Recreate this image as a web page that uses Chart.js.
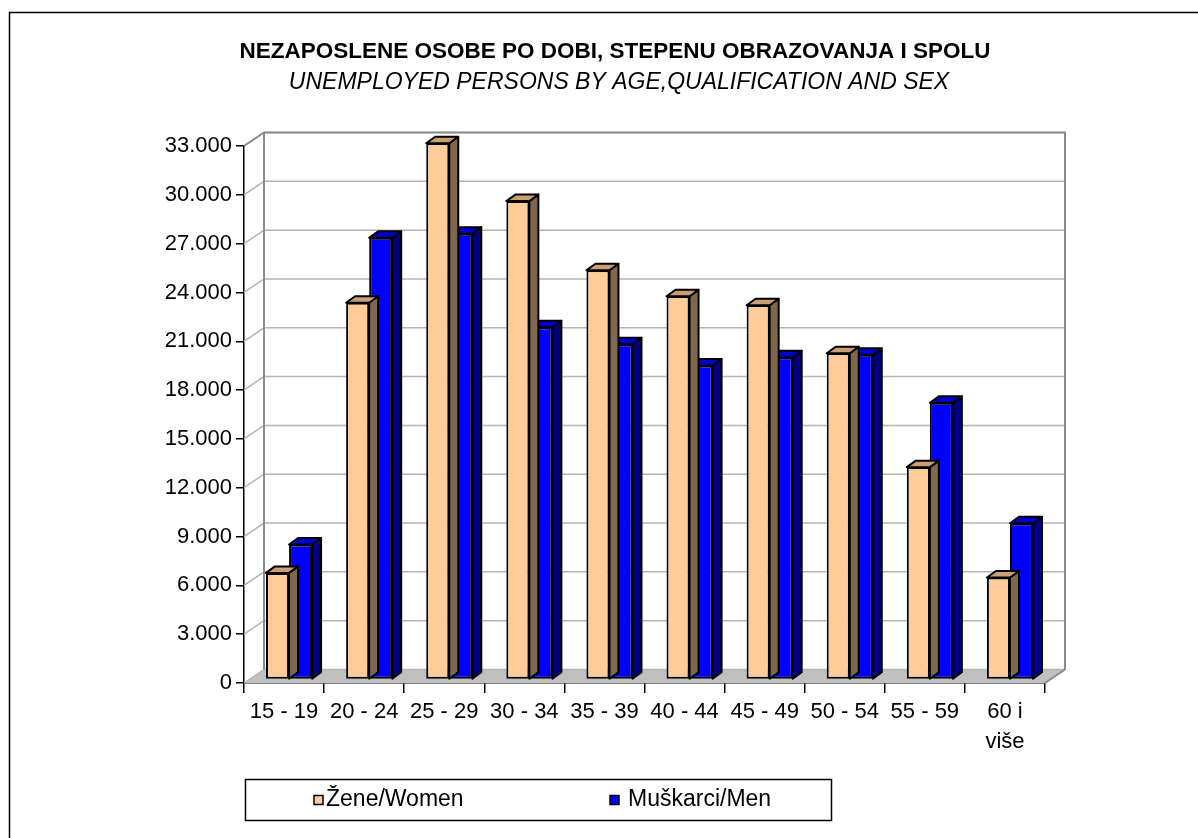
<!DOCTYPE html>
<html>
<head>
<meta charset="utf-8">
<script src="https://cdn.jsdelivr.net/npm/chart.js@4.4.1/dist/chart.umd.min.js"></script>
<style>
html, body { margin: 0; padding: 0; background: #fff; }
canvas { display: block; }
</style>
</head>
<body>
<canvas id="chart" width="1198" height="838"></canvas>
<script>
// data
const categories = ['15 - 19', '20 - 24', '25 - 29', '30 - 34', '35 - 39', '40 - 44', '45 - 49', '50 - 54', '55 - 59', ['60 i', 'više']];
const women = [6550, 23150, 32950, 29400, 25150, 23550, 23000, 20050, 13050, 6270];
const men = [8300, 27150, 27400, 21650, 20600, 19300, 19800, 19950, 17000, 9600];
const seriesLabels = ['Žene/Women', 'Muškarci/Men'];
const yMax = 33000;
const yStep = 3000;
const titleText = 'NEZAPOSLENE OSOBE PO DOBI, STEPENU OBRAZOVANJA I SPOLU';
const subtitleText = 'UNEMPLOYED PERSONS BY AGE,QUALIFICATION AND SEX';

const FONT = "'Liberation Sans', Arial, sans-serif";

// 3d offsets
const DX = 20, DY = -13.5;   // wall depth
const BX = 5, BY = -3.5;     // bars sit a bit behind the front
const SX = 9, SY = -6.5;     // bar depth

function fmt(v) {
	return String(v).replace(/\B(?=(\d{3})+(?!\d))/g, '.');
}

function poly(ctx, pts) {
	ctx.beginPath();
	ctx.moveTo(pts[0][0], pts[0][1]);
	for (var i = 1; i < pts.length; i++) ctx.lineTo(pts[i][0], pts[i][1]);
	ctx.closePath();
}

const box3d = {
	id: 'box3d',
	afterLayout(chart) {
		// titles are centred a little right of the canvas middle
		chart.boxes.forEach(b => {
			if (!b.options) return;
			if (b.options.text === titleText) { b.left = 185; b.right = 1045; }
			if (b.options.text === subtitleText) { b.left = 193; b.right = 1045; }
		});
	},
	beforeDatasetsDraw(chart) {
		const ctx = chart.ctx;
		const a = chart.chartArea;
		const y = chart.scales.y;
		const y0 = y.getPixelForValue(0);
		const top = y.getPixelForValue(yMax);

		ctx.save();
		// floor
		ctx.fillStyle = '#c0c0c0';
		poly(ctx, [[a.left, y0], [a.right, y0], [a.right + DX, y0 + DY], [a.left + DX, y0 + DY]]);
		ctx.fill();

		// grid lines on the left and back walls
		ctx.strokeStyle = '#b4b4b4';
		ctx.lineWidth = 1.5;
		y.ticks.forEach(t => {
			const py = y.getPixelForValue(t.value);
			ctx.beginPath();
			ctx.moveTo(a.left, py);
			ctx.lineTo(a.left + DX, py + DY);
			ctx.lineTo(a.right + DX, py + DY);
			ctx.stroke();
		});

		// wall edges
		ctx.strokeStyle = '#8c8c8c';
		ctx.lineWidth = 2;
		ctx.beginPath();
		ctx.moveTo(a.left, top);
		ctx.lineTo(a.left + DX, top + DY);
		ctx.lineTo(a.right + DX, top + DY);
		ctx.lineTo(a.right + DX, y0 + DY);
		ctx.lineTo(a.right, y0);
		ctx.moveTo(a.left + DX, top + DY);
		ctx.lineTo(a.left + DX, y0 + DY);
		ctx.stroke();
		ctx.restore();

		ctx.save();
		ctx.translate(BX, BY);
	},
	afterDatasetDraw(chart, args) {
		const ctx = chart.ctx;
		const ds = chart.data.datasets[args.index];
		ctx.save();
		ctx.lineWidth = 2;
		ctx.lineJoin = 'round';
		ctx.strokeStyle = '#000';
		args.meta.data.forEach(el => {
			const p = el.getProps(['x', 'y', 'base', 'width'], true);
			const l = p.x - p.width / 2, r = p.x + p.width / 2;
			ctx.fillStyle = ds.sideColor;
			poly(ctx, [[r, p.y], [r + SX, p.y + SY], [r + SX, p.base + SY], [r, p.base]]);
			ctx.fill();
			ctx.stroke();
			ctx.fillStyle = ds.topColor;
			poly(ctx, [[l, p.y], [l + SX, p.y + SY], [r + SX, p.y + SY], [r, p.y]]);
			ctx.fill();
			ctx.stroke();
		});
		ctx.restore();
	},
	afterDatasetsDraw(chart) {
		chart.ctx.restore();
	},
	afterDraw(chart) {
		const ctx = chart.ctx;
		ctx.save();
		// outer frame
		ctx.strokeStyle = '#000';
		ctx.lineWidth = 1.5;
		ctx.beginPath();
		ctx.moveTo(9.5, 840);
		ctx.lineTo(9.5, 12.5);
		ctx.lineTo(1200, 12.5);
		ctx.stroke();

		// legend
		ctx.strokeRect(245.5, 779.5, 586, 41);
		const items = [[314, 326], [610, 628]];
		ctx.font = '23px ' + FONT;
		ctx.textBaseline = 'middle';
		ctx.textAlign = 'left';
		chart.data.datasets.forEach((ds, i) => {
			ctx.fillStyle = ds.backgroundColor;
			ctx.fillRect(items[i][0], 795.5, 9, 9);
			ctx.lineWidth = 1.5;
			ctx.strokeRect(items[i][0], 795.5, 9, 9);
			ctx.fillStyle = '#000';
			ctx.fillText(ds.label, items[i][1], 800);
		});
		ctx.restore();
	}
};

let config = {
	type: 'bar',
	data: {
		labels: categories,
		datasets: [
			{
				label: seriesLabels[0],
				data: women,
				backgroundColor: '#ffcc99',
				sideColor: '#80674d',
				topColor: '#cc9f73',
				borderColor: '#000',
				borderWidth: 2,
				borderSkipped: false,
				categoryPercentage: 0.575,
				barPercentage: 1,
				clip: false
			},
			{
				label: seriesLabels[1],
				data: men,
				backgroundColor: '#0000ff',
				sideColor: '#000080',
				topColor: '#0000cc',
				borderColor: '#000',
				borderWidth: 2,
				borderSkipped: false,
				categoryPercentage: 0.575,
				barPercentage: 1,
				clip: false
			}
		]
	},
	options: {
		responsive: false,
		animation: false,
		devicePixelRatio: 1,
		layout: {
			padding: { left: 100, right: 153, top: 38.5, bottom: 0 }
		},
		plugins: {
			legend: { display: false },
			tooltip: { enabled: false },
			title: {
				display: true,
				text: titleText,
				color: '#000',
				font: { family: FONT, size: 22.5, weight: 'bold', lineHeight: 1.2 },
				padding: { top: 0, bottom: 0 }
			},
			subtitle: {
				display: true,
				text: subtitleText,
				color: '#000',
				font: { family: FONT, size: 23, style: 'italic', lineHeight: 1.2 },
				padding: { top: 3.7, bottom: 49.2 }
			}
		},
		scales: {
			x: {
				grid: { offset: true, drawOnChartArea: false, tickLength: 10, color: '#000', lineWidth: 1.5 },
				border: { color: '#000', width: 1.5 },
				ticks: {
					color: '#000',
					font: { family: FONT, size: 22, lineHeight: 1.36 },
					padding: 4,
					maxRotation: 0,
					autoSkip: false
				},
				afterFit: s => { s.height = 155; }
			},
			y: {
				min: 0,
				max: yMax,
				grid: { drawOnChartArea: false, tickLength: 8, color: '#000', lineWidth: 1.5 },
				border: { color: '#000', width: 1.5 },
				ticks: {
					stepSize: yStep,
					color: '#000',
					font: { family: FONT, size: 22 },
					padding: 4,
					callback: v => fmt(v)
				},
				afterFit: s => { s.width = 144; }
			}
		}
	},
	plugins: [box3d]
};

const ctx = document.getElementById('chart').getContext('2d');
const myChart = new Chart(ctx, config);
</script>
</body>
</html>
